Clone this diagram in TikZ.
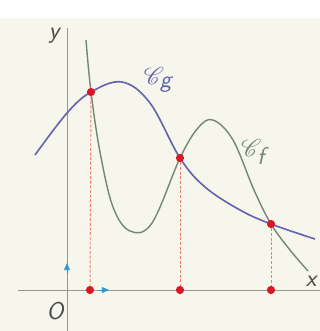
\documentclass[tikz,border=0pt]{standalone}
\usepackage{mathrsfs}
\usepackage{tikz}
\usetikzlibrary{arrows.meta,positioning,calc}
\definecolor{pagebg}{RGB}{246,246,236}
\definecolor{axisgray}{RGB}{150,150,150}
\definecolor{curveg}{RGB}{100,100,175}
\definecolor{curvef}{RGB}{115,135,115}
\definecolor{dotred}{RGB}{215,25,35}
\definecolor{dashred}{RGB}{240,125,110}
\definecolor{unitblue}{RGB}{45,150,215}

\begin{document}
\begin{tikzpicture}[x=0.03cm, y=-0.03cm,
  axis/.style={axisgray, line width=0.8pt},
  gcurve/.style={curveg, line width=1.4pt},
  fcurve/.style={curvef, line width=1.2pt},
  dot/.style={circle, fill=dotred, inner sep=0pt, minimum size=7pt},
  guide/.style={dashred, dash pattern=on 2.5pt off 1.5pt, line width=0.8pt},
  unit/.style={-{Triangle[length=6pt, width=5pt]}, unitblue, line width=0.5pt},
  lbl/.style={font=\sffamily\itshape\huge, text=black!70}
]

% page and frame
\fill[pagebg] (0,0) rectangle (320,331);
\fill[white] (0,0) rectangle (320,18);
\useasboundingbox (0,0) rectangle (320,331);

% axes
\draw[axis] (18,290) -- (320,290);
\draw[axis] (67,28) -- (67,331);
\node[lbl] (ylab) at (54,36) {y};
\node[lbl] (xlab) at (311,281) {x};
\node[lbl] (orig) at (55,311) {O};

% unit vectors
\coordinate (o) at (67,290);
\draw[unit] (67,274) -- (67,263);
\draw[unit] (98,290) -- (109,290);

% curve g
\draw[gcurve] plot[smooth, tension=0.6] coordinates {(35,155) (67,113) (91,92) (122,82) (150,103) (180,158) (205,187) (240,210) (271,224) (315,239)};
\node[curveg, font=\huge] (cg) at (158,80) {$\mathscr{C}_{\textsf{\itshape g}}$};

% curve f
\draw[fcurve] plot[smooth, tension=0.6] coordinates {(86,40) (91,92) (100,152) (113,207) (130,231) (152,223) (180,158) (198,128) (213,120) (233,140) (254,190) (271,224) (290,250) (308,271)};
\node[curvef, font=\huge] (cf) at (253,152) {$\mathscr{C}_{\textsf{\itshape f}}$};

% intersections
\node[dot] (p1) at (91,92) {};
\node[dot] (p2) at (180,158) {};
\node[dot] (p3) at (271,224) {};
\node[dot] (q1) at (90,290) {};
\node[dot] (q2) at (180,290) {};
\node[dot] (q3) at (271,290) {};
\draw[guide] (p1) -- (q1);
\draw[guide] (p2) -- (q2);
\draw[guide] (p3) -- (q3);

\end{tikzpicture}
\end{document}
